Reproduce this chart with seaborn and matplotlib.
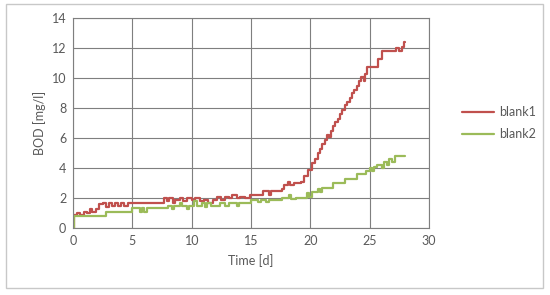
import matplotlib
import pandas as pd
import seaborn as sns

matplotlib.use("Agg")
import matplotlib.pyplot as plt
from matplotlib.patches import Rectangle


# step breakpoints (value holds until next time)
blank1_time = [
    0.0, 0.05, 0.3, 0.6, 0.9, 1.2, 1.4, 1.6, 1.9, 2.2, 2.5, 2.8, 3.0, 3.3,
    3.5, 3.8, 4.0, 4.3, 4.6, 5.0, 7.7, 7.9, 8.1, 8.4, 8.6, 9.0, 9.3, 9.6,
    10.0, 10.3, 10.7, 11.0, 11.4, 11.8, 12.1, 12.5, 12.8, 13.1, 13.4, 13.8,
    14.1, 14.5, 14.9, 16.0, 16.5, 16.7, 17.6, 17.8, 18.1, 18.3, 18.6, 19.2,
    19.5, 19.8, 20.1, 20.4, 20.6, 20.8, 21.0, 21.2, 21.4, 21.6, 21.7, 21.9,
    22.1, 22.3, 22.5, 22.7, 22.9, 23.1, 23.3, 23.5, 23.7, 23.9, 24.1, 24.3,
    24.5, 24.6, 24.8, 25.7, 26.0, 27.2, 27.5, 27.7, 27.9, 28.0,
]
blank1_bod = [
    0.0, 0.9, 1.0, 0.9, 1.1, 1.0, 1.3, 1.1, 1.3, 1.6, 1.7, 1.4, 1.7, 1.5,
    1.7, 1.5, 1.7, 1.5, 1.7, 1.7, 2.0, 1.8, 2.0, 1.7, 1.9, 2.0, 1.8, 2.0,
    1.9, 2.0, 1.8, 1.9, 1.7, 1.9, 2.1, 1.9, 2.1, 2.0, 2.2, 2.0,
    2.1, 2.0, 2.2, 2.45, 2.2, 2.45, 2.6, 2.9, 3.1, 2.9, 3.0, 3.1,
    3.45, 3.9, 4.35, 4.6, 5.0, 5.3, 5.6, 5.9, 6.2, 6.1, 6.5, 6.8,
    7.1, 7.3, 7.6, 7.9, 8.2, 8.4, 8.7, 9.0, 9.2, 9.5, 9.8, 10.1,
    9.8, 10.3, 10.75, 11.3, 11.8, 12.0, 11.8, 12.1, 12.4, 12.4,
]

blank2_time = [
    0.0, 0.05, 2.8, 3.0, 5.0, 5.6, 5.8, 6.0, 6.2, 8.0, 8.3, 8.5, 9.0, 9.2,
    9.6, 9.8, 10.2, 10.4, 10.9, 11.1, 11.3, 11.6, 12.4, 12.8, 13.1, 13.8,
    14.0, 15.0, 15.6, 15.8, 16.3, 16.5, 17.6, 18.2, 18.4, 18.8, 19.7, 19.9,
    20.1, 20.6, 20.8, 21.0, 21.9, 22.9, 23.9, 24.7, 25.0, 25.2, 25.4, 25.6,
    26.0, 26.2, 26.5, 26.6, 26.9, 27.1, 28.0,
]
blank2_bod = [
    0.0, 0.8, 1.05, 1.1, 1.35, 1.05, 1.35, 1.05, 1.35, 1.5, 1.3, 1.5, 1.7, 1.5,
    1.3, 1.5, 1.8, 1.5, 1.7, 1.4, 1.7, 1.5, 1.7, 1.5, 1.7, 1.5,
    1.7, 1.9, 1.75, 1.9, 1.75, 1.9, 2.0, 2.2, 1.95, 2.0, 2.35, 2.1,
    2.4, 2.6, 2.4, 2.7, 3.0, 3.25, 3.6, 3.8, 4.0, 3.8, 4.1, 4.2,
    4.0, 4.4, 4.2, 4.6, 4.4, 4.8, 4.8,
]

series_names = ["blank1", "blank2"]
series_colors = ["#C0504D", "#9BBB59"]


def main() -> None:
    df = pd.concat(
        [
            pd.DataFrame({"time": blank1_time, "bod": blank1_bod, "series": "blank1"}),
            pd.DataFrame({"time": blank2_time, "bod": blank2_bod, "series": "blank2"}),
        ],
        ignore_index=True,
    )

    sns.set_style("white")
    plt.rcParams["font.family"] = ["Lato", "DejaVu Sans"]

    fig = plt.figure(figsize=(5.5, 2.95), dpi=100)
    ax = fig.add_axes([0.133, 0.227, 0.647, 0.712])

    sns.lineplot(
        data=df,
        x="time",
        y="bod",
        hue="series",
        hue_order=series_names,
        palette=series_colors,
        drawstyle="steps-post",
        linewidth=1.6,
        estimator=None,
        sort=False,
        ax=ax,
    )

    ax.set_xlim(0, 30)
    ax.set_ylim(0, 14)
    ax.set_xticks(range(0, 31, 5))
    ax.set_yticks(range(0, 15, 2))
    ax.grid(True, color="#7f7f7f", linewidth=0.8)
    ax.set_axisbelow(True)
    for spine in ax.spines.values():
        spine.set_color("#7f7f7f")
        spine.set_linewidth(0.8)
    ax.tick_params(length=0, labelsize=9, labelcolor="#595959", pad=5)

    ax.set_xlabel("Time [d]", fontsize=9, color="#595959", labelpad=5)
    ax.set_ylabel("BOD [mg/l]", fontsize=9, color="#595959", labelpad=4)

    ax.legend(
        frameon=False,
        loc="center left",
        bbox_to_anchor=(1.06, 0.5),
        fontsize=9,
        labelcolor="#595959",
        handlelength=2.6,
        handletextpad=0.4,
        labelspacing=0.8,
    )

    # light outer frame like the chart area border
    fig.patches.append(
        Rectangle(
            (6 / 550, 1 - 288 / 295),
            537 / 550,
            284 / 295,
            transform=fig.transFigure,
            fill=False,
            edgecolor="#c8c8c8",
            linewidth=1.0,
        )
    )

    fig.savefig("out.png", dpi=100)
    plt.close(fig)


if __name__ == "__main__":
    main()
